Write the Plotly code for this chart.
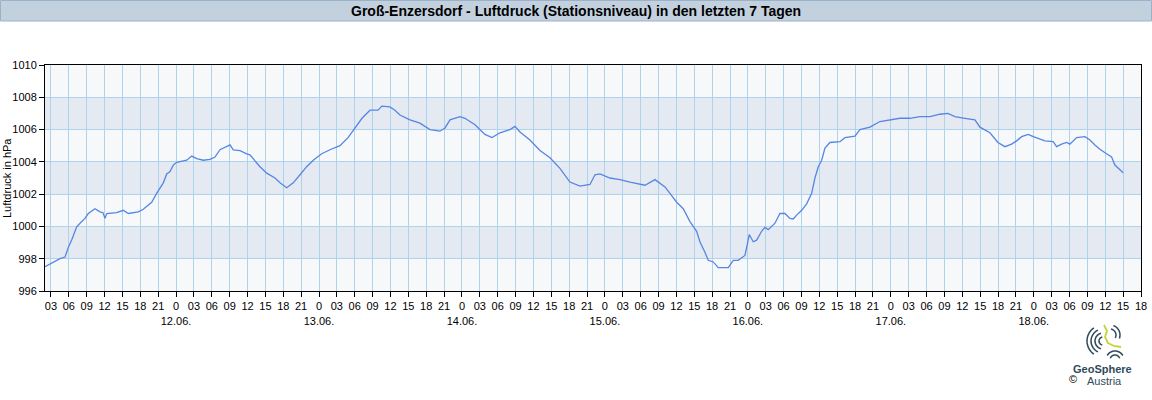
import math
import pandas as pd
import plotly.graph_objects as go

# ---------------- data ----------------
# hours since 11.06. 00:00 (local time)
hours = [2.0, 3.0, 4.52, 5.36, 5.91, 6.53, 7.32, 7.88, 8.71, 9.27, 10.39, 11.23, 11.74,
         12.07, 12.36, 14.04, 15.14, 15.98, 17.66, 18.50, 19.91, 20.75, 21.86, 22.43,
         22.98, 23.54, 24.11, 25.79, 26.63, 27.47, 28.57, 29.70, 30.54, 31.38, 33.06,
         33.61, 34.73, 35.86, 36.41, 38.09, 39.22, 40.61, 41.45, 42.57, 43.68, 44.81,
         45.93, 47.04, 48.45, 49.84, 51.52, 52.87, 54.04, 55.22, 56.56, 57.90, 58.57,
         59.91, 60.75, 61.59, 63.27, 64.95, 66.63, 68.31, 69.15, 69.99, 71.67, 72.51,
         74.19, 75.86, 77.04, 78.38, 80.06, 80.90, 81.74, 83.42, 85.10, 86.78, 88.45,
         90.13, 91.81, 93.49, 94.33, 95.17, 96.85, 98.53, 100.21, 102.73, 104.41,
         105.25, 106.08, 106.92, 108.05, 109.15, 110.28, 111.40, 111.95, 112.79,
         113.35, 114.19, 115.03, 116.71, 117.55, 118.38, 119.51, 119.89, 120.23,
         120.90, 121.47, 122.31, 122.87, 123.42, 124.55, 125.38, 126.22, 127.06,
         127.62, 128.19, 129.03, 129.87, 130.71, 131.26, 131.82, 132.39, 132.94,
         133.78, 135.46, 136.30, 137.98, 138.82, 140.50, 142.17, 143.85, 145.53,
         147.21, 148.89, 150.57, 152.25, 153.59, 154.76, 156.44, 158.12, 158.96,
         160.64, 161.98, 163.16, 164.28, 165.12, 165.96, 167.07, 167.91, 169.03,
         169.87, 171.26, 171.83, 172.67, 173.51, 174.06, 175.19, 176.58, 177.42,
         178.26, 179.10, 180.22, 181.06, 181.62, 182.17, 183.0]

pressure = [997.5, 997.7, 998.0, 998.1, 998.7, 999.2, 999.98, 1000.2, 1000.5, 1000.8,
            1001.1, 1000.9, 1000.85, 1000.5, 1000.8, 1000.85, 1001.0, 1000.8, 1000.9,
            1001.06, 1001.5, 1002.05, 1002.7, 1003.25, 1003.4, 1003.8, 1003.97, 1004.1,
            1004.36, 1004.2, 1004.1, 1004.15, 1004.3, 1004.75, 1005.05, 1004.74, 1004.7,
            1004.5, 1004.43, 1003.7, 1003.3, 1003.0, 1002.7, 1002.4, 1002.7, 1003.2,
            1003.7, 1004.1, 1004.5, 1004.75, 1005.0, 1005.5, 1006.1, 1006.7, 1007.2,
            1007.2, 1007.45, 1007.4, 1007.2, 1006.9, 1006.6, 1006.4, 1006.0, 1005.9,
            1006.1, 1006.6, 1006.8, 1006.7, 1006.3, 1005.7, 1005.5, 1005.8, 1006.0,
            1006.2, 1005.85, 1005.35, 1004.7, 1004.25, 1003.6, 1002.75, 1002.5, 1002.6,
            1003.2, 1003.25, 1003.0, 1002.9, 1002.75, 1002.55, 1002.9, 1002.7, 1002.45,
            1002.05, 1001.5, 1001.1, 1000.3, 999.7, 999.05, 998.4, 997.9, 997.8, 997.45,
            997.45, 997.9, 997.9, 998.2, 998.85, 999.5, 999.05, 999.15, 999.7, 999.94,
            999.8, 1000.2, 1000.8, 1000.8, 1000.5, 1000.46, 1000.7, 1001.0, 1001.4,
            1002.05, 1003.0, 1003.7, 1004.1, 1004.85, 1005.2, 1005.25, 1005.5, 1005.6,
            1006.0, 1006.15, 1006.5, 1006.6, 1006.7, 1006.7, 1006.8, 1006.8, 1006.95,
            1007.0, 1006.8, 1006.7, 1006.6, 1006.15, 1005.8, 1005.2, 1004.94, 1005.1,
            1005.3, 1005.56, 1005.7, 1005.56, 1005.4, 1005.3, 1005.25, 1004.94, 1005.1,
            1005.2, 1005.1, 1005.5, 1005.56, 1005.35, 1005.05, 1004.78, 1004.5, 1004.3,
            1003.8, 1003.6, 1003.33]

day_labels = ["12.06.", "13.06.", "14.06.", "15.06.", "16.06.", "17.06.", "18.06."]
y_ticks = [996, 998, 1000, 1002, 1004, 1006, 1008, 1010]

title_text = "Groß-Enzersdorf - Luftdruck (Stationsniveau) in den letzten 7 Tagen"
y_title = "Luftdruck in hPa"

# ---------------- build ----------------
base = pd.Timestamp("2024-06-11 00:00")
times = [base + pd.Timedelta(hours=h) for h in hours]

x_start = base + pd.Timedelta(hours=2)
x_end = base + pd.Timedelta(hours=7 * 24 + 18)

tickvals, ticktext = [], []
t = base + pd.Timedelta(hours=3)
while t <= x_end:
    if t.hour == 0:
        idx = (t - base).days - 1
        ticktext.append("0<br>" + day_labels[idx])
    else:
        ticktext.append("%02d" % t.hour)
    tickvals.append(t)
    t += pd.Timedelta(hours=3)

FIG_W, FIG_H = 1152, 400
# plot area in pixels
L, R, T, B = 45, 1141, 65, 291
W, H = R - L, B - T


def px(x):
    return (x - L) / W


def py(y):
    return (B - y) / H


fig = go.Figure()
fig.add_trace(go.Scatter(x=times, y=pressure, mode="lines",
                         line=dict(color="rgb(86,134,226)", width=1.3),
                         hoverinfo="x+y", showlegend=False))

shapes = []
# alternating bands
for i, y0 in enumerate(y_ticks[:-1]):
    col = "#e5eaf2" if i % 2 == 1 else "#f6f8fa"
    shapes.append(dict(type="rect", xref="paper", yref="y", x0=0, x1=1, y0=y0, y1=y0 + 2,
                       fillcolor=col, line=dict(width=0), layer="below"))

# title bar
shapes.append(dict(type="rect", xref="paper", yref="paper",
                   x0=px(0.5), x1=px(1151.5), y0=py(21), y1=py(0.5),
                   fillcolor="#c3d1df", line=dict(color="#9ab2c9", width=1)))


# logo (decorative)
def arc(cx, cy, r, a0, a1, n=16):
    pts = []
    for k in range(n + 1):
        a = math.radians(a0 + (a1 - a0) * k / n)
        pts.append((px(cx + r * math.cos(a)), py(cy - r * math.sin(a))))
    return "M " + " L ".join("%.5f,%.5f" % p for p in pts)


logo_dark = "#2f4b5a"
logo_green = "#c5d33b"
logo_arcs = [
    (1103, 341, 4, 100, 260), (1103, 341, 8, 105, 255), (1103, 341, 12, 115, 245),
    (1103, 341, 16, 125, 235),
    (1110, 335, 6, -30, 80), (1110, 335, 10, -20, 70),
    (1115, 360, 5, 20, 160), (1115, 360, 9, 30, 150),
]
for cx, cy, r, a0, a1 in logo_arcs:
    shapes.append(dict(type="path", xref="paper", yref="paper", path=arc(cx, cy, r, a0, a1),
                       line=dict(color=logo_dark, width=1.5)))
green = [(1104, 325), (1107, 331), (1105, 337), (1108, 343), (1114, 346), (1121, 347)]
shapes.append(dict(type="path", xref="paper", yref="paper",
                   path="M " + " L ".join("%.5f,%.5f" % (px(a), py(b)) for a, b in green),
                   line=dict(color=logo_green, width=1.8)))

annotations = [
    dict(text="<b>" + title_text + "</b>", xref="paper", yref="paper", x=px(576), y=py(11),
         xanchor="center", yanchor="middle", showarrow=False,
         font=dict(size=14, color="#000000", family="Liberation Sans, Arial, sans-serif")),
    dict(text=y_title, xref="paper", yref="paper", x=px(7), y=py(178), textangle=-90,
         xanchor="center", yanchor="middle", showarrow=False,
         font=dict(size=11, color="#000000")),
    dict(text="<b>GeoSphere</b>", xref="paper", yref="paper", x=px(1102), y=py(369),
         xanchor="center", yanchor="middle", showarrow=False,
         font=dict(size=11, color=logo_dark)),
    dict(text="Austria", xref="paper", yref="paper", x=px(1104), y=py(381),
         xanchor="center", yanchor="middle", showarrow=False,
         font=dict(size=11, color=logo_dark)),
    dict(text="©", xref="paper", yref="paper", x=px(1073), y=py(379),
         xanchor="center", yanchor="middle", showarrow=False,
         font=dict(size=11, color="#000000")),
]

fig.update_layout(
    width=FIG_W, height=FIG_H, autosize=False,
    margin=dict(l=L, r=FIG_W - R, t=T, b=FIG_H - B, pad=0),
    paper_bgcolor="#ffffff", plot_bgcolor="#f6f8fa",
    font=dict(family="Liberation Sans, Arial, sans-serif", size=11, color="#000000"),
    shapes=shapes, annotations=annotations, showlegend=False,
)
fig.update_xaxes(type="date", range=[x_start, x_end], tickmode="array",
                 tickvals=tickvals, ticktext=ticktext, tickangle=0, automargin=False,
                 showgrid=True, gridcolor="#aed3ef", gridwidth=1,
                 showline=True, linecolor="#000000", linewidth=1, mirror=True,
                 ticks="outside", ticklen=5, tickcolor="#000000", zeroline=False,
                 tickfont=dict(size=11))
fig.update_yaxes(range=[996, 1010], tickmode="array", tickvals=y_ticks,
                 ticktext=[str(v) for v in y_ticks], automargin=False,
                 showgrid=True, gridcolor="#aed3ef", gridwidth=1,
                 showline=True, linecolor="#000000", linewidth=1, mirror=True,
                 ticks="outside", ticklen=5, tickcolor="#000000", zeroline=False,
                 tickfont=dict(size=11))

# remove the default 8px page margin so the figure sits at the window's corner
fig.write_html("out.html", config={"displayModeBar": False},
               post_script="document.body.style.margin='0';document.body.style.overflow='hidden';")
